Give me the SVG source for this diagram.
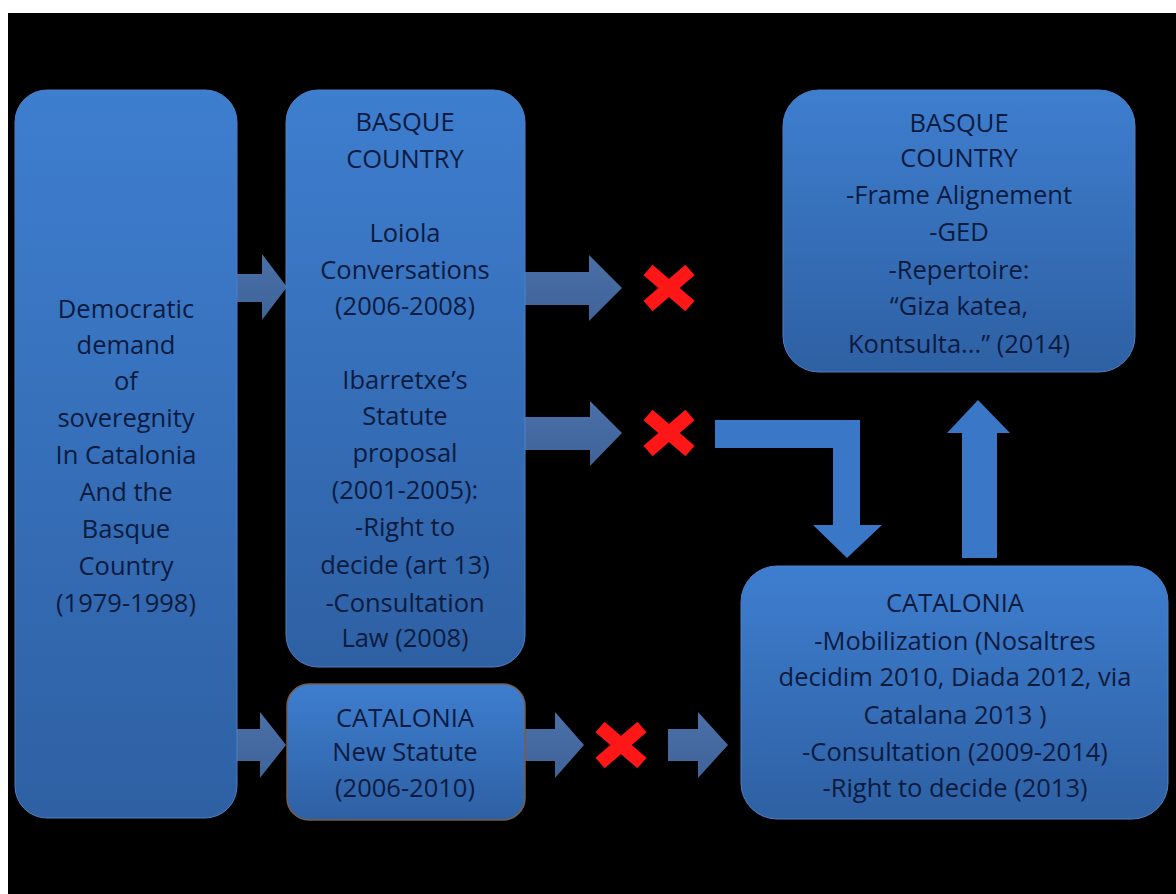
<svg xmlns="http://www.w3.org/2000/svg" width="1176" height="894" viewBox="0 0 1176 894">
<defs>
<linearGradient id="boxg" x1="0" y1="0" x2="0" y2="1">
<stop offset="0" stop-color="#3e7ecf"/>
<stop offset="1" stop-color="#2e60a3"/>
</linearGradient>
<linearGradient id="arrg" x1="0" y1="0" x2="0" y2="1">
<stop offset="0" stop-color="#4a70a8"/>
<stop offset="1" stop-color="#3f6399"/>
</linearGradient>
<style>
.box{fill:url(#boxg);stroke:#4f80c2;stroke-width:1}
.t{font-family:"Open Sans","Liberation Sans",sans-serif;font-size:25.5px;fill:#0b1b40;text-anchor:middle}
.arr{fill:url(#arrg)}
.arr2{fill:#3a77c6}
.x{stroke:#ff1616;stroke-width:14;stroke-linecap:butt;fill:none}
</style>
</defs>
<rect x="0" y="0" width="1176" height="894" fill="#ffffff"/>
<rect x="8" y="13" width="1168" height="881" fill="#000000"/>

<g id="connectors">
<polygon class="arr" points="232,274 262,274 262,254 287,287 262,320 262,302 232,302"/>
<polygon class="arr" points="232,729 260,729 260,712 286,745 260,778 260,761 232,761"/>
<polygon class="arr" points="525,272 589,272 589,255 622,288 589,321 589,305 525,305"/>
<polygon class="arr" points="525,417 590,417 590,401 622,433 590,466 590,450 525,450"/>
<polygon class="arr" points="525,729 555,729 555,712 584,745 555,778 555,761 525,761"/>
<polygon class="arr" points="668,729 698,729 698,712 728,745 698,778 698,761 668,761"/>
<polygon class="arr2" points="715,420 860,420 860,525 882,525 847,558 813,525 833,525 833,448 715,448"/>
<polygon class="arr2" points="962,558 962,433 947,433 978,400 1010,433 997,433 997,558"/>
<g id="x1"><line class="x" x1="648" y1="270" x2="690" y2="306"/><line class="x" x1="690" y1="270" x2="648" y2="306"/></g>
<g id="x2"><line class="x" x1="648" y1="415" x2="690" y2="451"/><line class="x" x1="690" y1="415" x2="648" y2="451"/></g>
<g id="x3"><line class="x" x1="600" y1="727" x2="642" y2="763"/><line class="x" x1="642" y1="727" x2="600" y2="763"/></g>
</g>

<g id="node-origin">
<rect class="box" x="15" y="90" width="222" height="728" rx="32"/>
<text class="t" x="126" y="318">Democratic</text>
<text class="t" x="126" y="354">demand</text>
<text class="t" x="126" y="390">of</text>
<text class="t" x="126" y="427">soveregnity</text>
<text class="t" x="126" y="464">In Catalonia</text>
<text class="t" x="126" y="501">And the</text>
<text class="t" x="126" y="538">Basque</text>
<text class="t" x="126" y="575">Country</text>
<text class="t" x="126" y="612">(1979-1998)</text>
</g>

<g id="node-basque">
<rect class="box" x="286" y="90" width="239" height="577" rx="32"/>
<text class="t" x="405" y="131">BASQUE</text>
<text class="t" x="405" y="168">COUNTRY</text>
<text class="t" x="405" y="242">Loiola</text>
<text class="t" x="405" y="279">Conversations</text>
<text class="t" x="405" y="315">(2006-2008)</text>
<text class="t" x="405" y="389">Ibarretxe’s</text>
<text class="t" x="405" y="425">Statute</text>
<text class="t" x="405" y="462">proposal</text>
<text class="t" x="405" y="499">(2001-2005):</text>
<text class="t" x="405" y="536">-Right to</text>
<text class="t" x="405" y="574">decide (art 13)</text>
<text class="t" x="405" y="612">-Consultation</text>
<text class="t" x="405" y="647">Law (2008)</text>
</g>

<g id="node-catalonia-statute">
<rect class="box" x="287" y="684" width="238" height="136" rx="22" style="stroke:#7a5c4a;stroke-width:1.5"/>
<text class="t" x="405" y="727">CATALONIA</text>
<text class="t" x="405" y="761">New Statute</text>
<text class="t" x="405" y="797">(2006-2010)</text>
</g>

<g id="node-basque-result">
<rect class="box" x="783" y="90" width="352" height="282" rx="36"/>
<text class="t" x="959" y="132">BASQUE</text>
<text class="t" x="959" y="167">COUNTRY</text>
<text class="t" x="959" y="204">-Frame Alignement</text>
<text class="t" x="959" y="241">-GED</text>
<text class="t" x="959" y="279">-Repertoire:</text>
<text class="t" x="959" y="315">“Giza katea,</text>
<text class="t" x="959" y="353">Kontsulta...” (2014)</text>
</g>

<g id="node-catalonia-result">
<rect class="box" x="741" y="566" width="427" height="253" rx="36"/>
<text class="t" x="955" y="612">CATALONIA</text>
<text class="t" x="955" y="650">-Mobilization (Nosaltres</text>
<text class="t" x="955" y="686">decidim 2010, Diada 2012, via</text>
<text class="t" x="955" y="724">Catalana 2013 )</text>
<text class="t" x="955" y="761">-Consultation (2009-2014)</text>
<text class="t" x="955" y="797">-Right to decide (2013)</text>
</g>
</svg>
